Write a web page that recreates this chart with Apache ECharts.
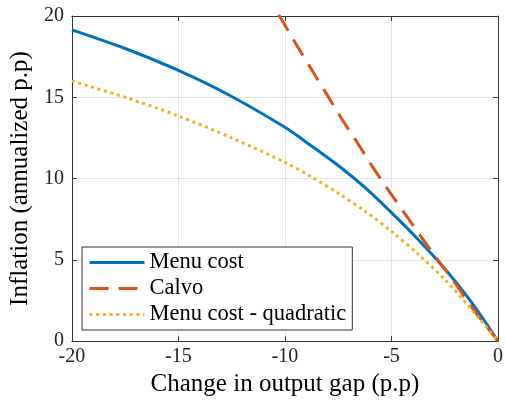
<!DOCTYPE html>
<html>
<head>
<meta charset="utf-8">
<script src="https://cdn.jsdelivr.net/npm/echarts@6/dist/echarts.min.js"></script>
<style>
  html, body { margin: 0; padding: 0; background: #fff; }
  #chart { width: 506px; height: 402px; }
</style>
</head>
<body>
<div id="chart"></div>
<script>
// values
const xTicks = [-20, -15, -10, -5, 0]
const yTicks = [0, 5, 10, 15, 20]

const menuX = [-20, -17.5, -15, -12.5, -10, -8.75, -7.5, -6.25, -5, -3.75, -2.5, -1.25, 0]
const menuY = [19.15, 18.0, 16.65, 15.05, 13.15, 12.0, 10.8, 9.45, 7.9, 6.25, 4.45, 2.4, 0]

const calvoX = [-10.3, -9.4, -8.7, -8.0, -7.3, -6.6, -5.9, -5.1, -4.35, -3.6, -2.8, -2.0, -1.3, 0]
const calvoY = [20.1, 18.1, 16.6, 15.1, 13.6, 12.2, 10.75, 9.2, 7.8, 6.4, 4.95, 3.55, 2.2, 0]

const quadX = [-20, -17.5, -15, -12.5, -10, -8.75, -7.5, -6.25, -5, -3.75, -2.5, -1.25, 0]
const quadY = [16.0, 15.0, 13.85, 12.5, 11.0, 10.1, 9.1, 8.0, 6.75, 5.35, 3.8, 1.95, 0]

const names = ['Menu cost', 'Calvo', 'Menu cost - quadratic']

const font = 'Liberation Serif'
const axisColor = '#333'

const zip = (xs, ys) => xs.map((x, i) => [x, ys[i]])

const chart = echarts.init(document.getElementById('chart'))

const baseAxis = {
  type: 'value',
  interval: 5,
  axisLine: { show: true, onZero: false, lineStyle: { color: axisColor, width: 1 } },
  axisTick: { show: true, inside: true, length: 5, lineStyle: { color: axisColor } },
  splitLine: { show: false },
}

chart.setOption({
  animation: false,
  grid: {
    left: 67,
    right: 5,
    top: 16,
    bottom: 59,
  },
  xAxis: [
    {
      ...baseAxis,
      min: xTicks[0],
      max: xTicks[xTicks.length - 1],
      name: 'Change in output gap (p.p)',
      nameLocation: 'middle',
      nameGap: 30,
      nameTextStyle: { fontFamily: font, fontSize: 25, color: '#000' },
      axisLabel: { fontFamily: font, fontSize: 20, color: '#222', margin: 6 },
      splitLine: { show: true, lineStyle: { color: '#e3e3e3', width: 1 } },
    },
    {
      ...baseAxis,
      position: 'top',
      min: xTicks[0],
      max: xTicks[xTicks.length - 1],
      axisLabel: { show: false },
    },
  ],
  yAxis: [
    {
      ...baseAxis,
      min: yTicks[0],
      max: yTicks[yTicks.length - 1],
      name: 'Inflation (annualized p.p)',
      nameLocation: 'middle',
      nameGap: 34,
      nameTextStyle: { fontFamily: font, fontSize: 25, color: '#000' },
      axisLabel: { fontFamily: font, fontSize: 20, color: '#222', margin: 8 },
      splitLine: { show: true, lineStyle: { color: '#e3e3e3', width: 1 } },
    },
    {
      ...baseAxis,
      position: 'right',
      min: yTicks[0],
      max: yTicks[yTicks.length - 1],
      axisLabel: { show: false },
    },
  ],
  legend: {
    orient: 'vertical',
    left: 82,
    top: 247,
    padding: [4, 6, 4, 6],
    itemWidth: 55,
    itemHeight: 14,
    itemGap: 3,
    backgroundColor: '#fff',
    borderColor: axisColor,
    borderWidth: 1,
    borderRadius: 0,
    itemStyle: { opacity: 0 },
    lineStyle: { width: 3 },
    textStyle: { fontFamily: font, fontSize: 22.5, color: '#000' },
    data: names,
  },
  series: [
    {
      name: names[0],
      type: 'line',
      data: zip(menuX, menuY),
      smooth: 0.3,
      symbol: 'none',
      itemStyle: { color: '#0072BD' },
      lineStyle: { color: '#0072BD', width: 3 },
      z: 2,
    },
    {
      name: names[1],
      type: 'line',
      data: zip(calvoX, calvoY),
      smooth: 0.3,
      symbol: 'none',
      itemStyle: { color: '#D95319' },
      lineStyle: { color: '#D95319', width: 3, type: [19, 10], cap: 'butt' },
      z: 3,
    },
    {
      name: names[2],
      type: 'line',
      data: zip(quadX, quadY),
      smooth: 0.3,
      symbol: 'none',
      itemStyle: { color: '#EDB120' },
      lineStyle: { color: '#EDB120', width: 3, type: [3, 3.7], cap: 'butt' },
      z: 4,
    },
  ],
})
</script>
</body>
</html>
